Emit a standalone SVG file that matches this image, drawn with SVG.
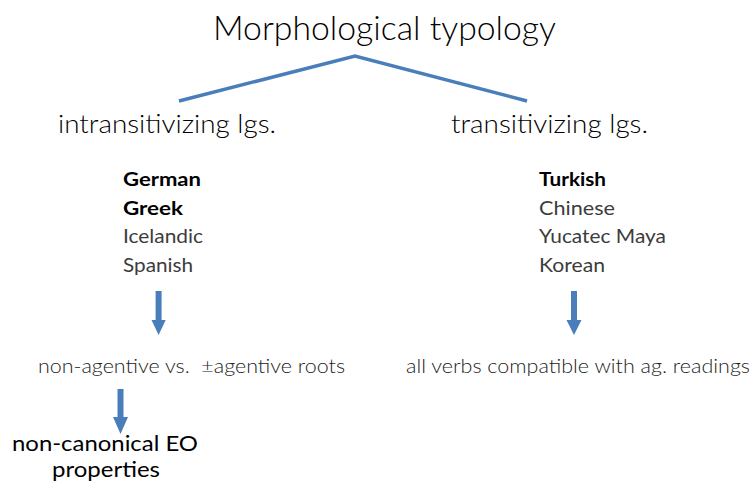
<svg xmlns="http://www.w3.org/2000/svg" width="755" height="492" viewBox="0 0 755 492">
<style>
text{font-family:"Lato","Open Sans","Liberation Sans",sans-serif;}
.lt{font-weight:300;fill:#000;}
.gr{font-weight:400;fill:#3c3c3c;}
.gl{font-weight:300;fill:#222;}
.bd{font-weight:700;fill:#000;}
.bk{font-weight:400;fill:#000;}
.arr{fill:#4a7ebb;}
</style>
<rect width="755" height="492" fill="#fff"/>
<g id="connectors">
<polyline points="179,101 355,56 527,101" fill="none" stroke="#4a7ebb" stroke-width="3.5"/>
<path class="arr" d="M155.6,291 h6 v29 h4.1 l-7.1,15 l-7.1,-15 h4.1 z"/>
<path class="arr" d="M571,291 h6 v29 h4.5 l-7.5,15 l-7.5,-15 h4.5 z"/>
<path class="arr" d="M117.5,389 h6 v28 h4.5 l-7.5,17 l-7.5,-17 h4.5 z"/>
</g>
<g id="title"><text class="lt" x="213" y="40" font-size="33" textLength="343" lengthAdjust="spacingAndGlyphs">Morphological typology</text></g>
<g id="intrans"><text class="lt" x="58" y="133" font-size="26" textLength="218" lengthAdjust="spacingAndGlyphs">intransitivizing lgs.</text></g>
<g id="trans"><text class="lt" x="451" y="133" font-size="26" textLength="197" lengthAdjust="spacingAndGlyphs">transitivizing lgs.</text></g>
<g id="intrans-langs">
<text class="bd" x="123" y="186" font-size="19" textLength="78" lengthAdjust="spacingAndGlyphs">German</text>
<text class="bd" x="123" y="214.5" font-size="19" textLength="60" lengthAdjust="spacingAndGlyphs">Greek</text>
<text class="gr" x="123" y="243" font-size="19" textLength="80" lengthAdjust="spacingAndGlyphs">Icelandic</text>
<text class="gr" x="123" y="271.5" font-size="19" textLength="70" lengthAdjust="spacingAndGlyphs">Spanish</text>
</g>
<g id="trans-langs">
<text class="bd" x="539" y="186" font-size="19" textLength="67" lengthAdjust="spacingAndGlyphs">Turkish</text>
<text class="gr" x="539" y="214.5" font-size="19" textLength="76" lengthAdjust="spacingAndGlyphs">Chinese</text>
<text class="gr" x="539" y="243" font-size="19" textLength="127" lengthAdjust="spacingAndGlyphs">Yucatec Maya</text>
<text class="gr" x="539" y="271.5" font-size="19" textLength="66" lengthAdjust="spacingAndGlyphs">Korean</text>
</g>
<g id="roots"><text class="gl" x="38" y="373" font-size="19" textLength="307" lengthAdjust="spacingAndGlyphs" xml:space="preserve">non-agentive vs.  ±agentive roots</text></g>
<g id="allverbs"><text class="gl" x="406" y="373" font-size="19" textLength="344" lengthAdjust="spacingAndGlyphs">all verbs compatible with ag. readings</text></g>
<g id="eo">
<text class="bk" x="12" y="451" font-size="21" textLength="186" lengthAdjust="spacingAndGlyphs">non-canonical EO</text>
<text class="bk" x="52" y="477" font-size="21" textLength="108" lengthAdjust="spacingAndGlyphs">properties</text>
</g>
</svg>
